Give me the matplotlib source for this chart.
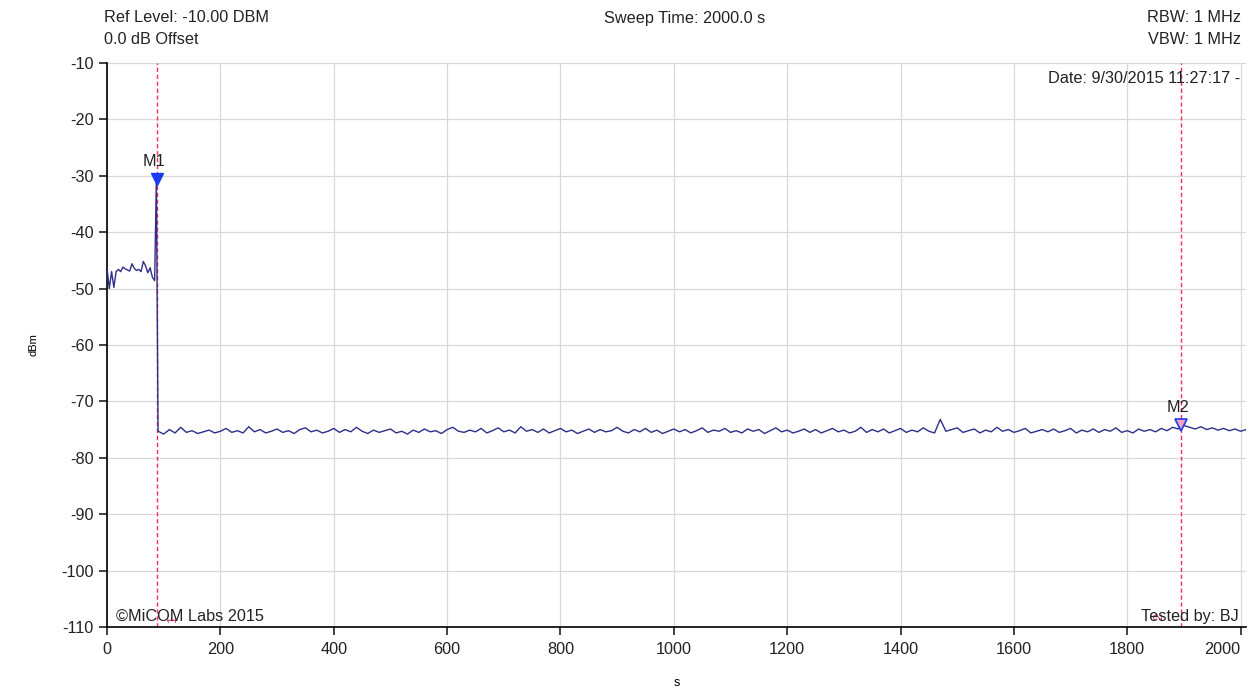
#Import matplotlib.pyplot to generate the plot
import matplotlib.pyplot as plt

#Import numpy for the time axis
import numpy as np

plt.rcParams['font.family'] = ['Liberation Sans', 'DejaVu Sans']
plt.rcParams['axes.unicode_minus'] = False

#Trace before the burst (s, dBm)
pre_t = [0, 4, 8, 12, 16, 20, 24, 28, 32, 36, 40, 44, 48, 52, 56, 60, 64, 68, 72, 76, 80, 84]
pre_v = [-46.5, -50.0, -47.0, -49.8, -47.0, -46.6, -47.0, -46.2, -46.5, -46.7, -46.9,
         -45.6, -46.4, -46.8, -46.6, -47.0, -45.2, -46.0, -47.2, -46.3, -48.0, -48.6]

#The burst itself
spike_t = [87]
spike_v = [-30.5]

#Noise floor after the burst, one reading every 10 s from 90 s
floor_v = [
    -75.3, -75.8, -75.0, -75.6, -74.6, -75.5, -75.2, -75.7, -75.4, -75.1, -75.6, -75.3, -74.8, -75.5, -75.2, -75.6, -74.5, -75.4, -75.0, -75.6,
    -75.3, -74.9, -75.5, -75.2, -75.7, -75.0, -74.7, -75.4, -75.1, -75.6, -75.3, -74.8, -75.5, -75.0, -75.4, -74.6, -75.3, -75.7, -75.1, -75.5,
    -75.2, -74.9, -75.6, -75.3, -75.8, -75.1, -75.5, -74.9, -75.4, -75.2, -75.7, -75.0, -74.6, -75.3, -75.5, -75.1, -75.4, -74.8, -75.6, -75.2,
    -74.7, -75.4, -75.1, -75.6, -74.5, -75.3, -75.0, -75.5, -74.9, -75.6, -75.2, -74.8, -75.4, -75.1, -75.7, -75.3, -74.9, -75.5, -75.0, -75.4,
    -75.2, -74.6, -75.3, -75.6, -75.0, -75.4, -74.8, -75.5, -75.1, -75.7, -75.3, -74.9, -75.4, -75.0, -75.6, -75.2, -74.7, -75.5, -75.1, -75.3,
    -74.8, -75.5, -75.2, -75.6, -74.9, -75.3, -75.0, -75.7, -75.2, -74.7, -75.4, -75.1, -75.6, -75.3, -74.9, -75.5, -75.0, -75.6, -75.2, -74.8,
    -75.4, -75.1, -75.6, -75.3, -74.6, -75.5, -75.0, -75.4, -74.9, -75.6, -75.2, -74.8, -75.5, -75.1, -75.4, -74.7, -75.3, -75.6, -73.2, -75.3,
    -75.0, -74.7, -75.5, -75.2, -74.9, -75.6, -75.1, -75.4, -74.6, -75.3, -75.0, -75.5, -75.2, -74.8, -75.6, -75.3, -75.0, -75.4, -74.9, -75.5,
    -75.2, -74.8, -75.6, -75.1, -75.4, -74.9, -75.5, -75.0, -75.3, -74.7, -75.5, -75.2, -75.6, -74.9, -75.3, -75.0, -75.4, -74.8, -75.2, -74.6,
    -74.9, -74.3, -74.6, -74.9, -74.5, -75.0, -74.7, -75.1, -74.8, -75.2, -74.9, -75.3, -75.0,
]
floor_t = np.arange(90, 90 + 10 * len(floor_v), 10)

#Markers
marker_names = ['M1', 'M2']
marker_t = [88, 1894]
marker_v = [-30.5, -74.2]

xticks = list(range(0, 2001, 200))
yticks = list(range(-110, -9, 10))

t = pre_t + spike_t + list(floor_t)
v = pre_v + spike_v + floor_v

fs = 11.7
txt_col = '#222222'

fig = plt.figure(figsize=(12.52, 6.92), dpi=100)
ax = fig.add_axes([0.0855, 0.094, 0.9095, 0.815])

ax.plot(t, v, color='#2e2e8a', lw=1.0, zorder=3)

for mt in marker_t:
    ax.axvline(mt, color='#ff2a55', lw=1.0, ls=(0, (3, 2)), zorder=2)

ax.plot(marker_t[0], marker_v[0], marker='v', ms=8, color='#1a3cf0', zorder=4, clip_on=False)
ax.plot(marker_t[1], marker_v[1], marker='v', ms=8, mfc='#f6a0c0', mec='#1a3cf0', mew=1.2, zorder=4)
for name, mt, mv in zip(marker_names, marker_t, marker_v):
    ax.text(mt - 5, mv + 1.7, name, ha='center', va='bottom', fontsize=fs, color=txt_col)

#small red marker numbers near the bottom
ax.text(117, -108.6, '1', color='#e0305a', fontsize=9, rotation=90, ha='center', va='center')
ax.text(1857, -108.2, '2', color='#e0305a', fontsize=9, rotation=90, ha='center', va='center')

ax.set_xlim(0, 2009)
ax.set_ylim(-110, -10)
ax.set_xticks(xticks)
ax.set_yticks(yticks)
ax.grid(True, color='#d8d8d8', lw=0.9)
ax.set_axisbelow(True)
for s in ['top', 'right']:
    ax.spines[s].set_visible(False)
ax.spines['left'].set_linewidth(1.2)
ax.spines['bottom'].set_linewidth(1.2)
ax.tick_params(axis='both', labelsize=fs, length=6, width=1.2, colors=txt_col)
ax.tick_params(axis='x', pad=5)
#last x label sits left of its tick so it stays inside the picture
last = ax.get_xticklabels()[-1]
last.set_horizontalalignment('right')
last.set_x(2000)

ax.set_xlabel('s', fontsize=9)
ax.xaxis.set_label_coords(0.5, -0.088)
ax.set_ylabel('dBm', fontsize=8)
ax.yaxis.set_label_coords(-0.060, 0.5)

ax.text(0.995, 0.985, 'Date: 9/30/2015 11:27:17 -', transform=ax.transAxes,
        ha='right', va='top', fontsize=fs, color=txt_col)
ax.text(0.008, 0.005, '\u00a9MiCOM Labs 2015', transform=ax.transAxes,
        ha='left', va='bottom', fontsize=fs, color=txt_col)
ax.text(0.994, 0.005, 'Tested by: BJ', transform=ax.transAxes,
        ha='right', va='bottom', fontsize=fs, color=txt_col)

fig.text(104 / 1252, 1 - 18 / 692, 'Ref Level: -10.00 DBM', ha='left', va='center', fontsize=fs, color=txt_col)
fig.text(104 / 1252, 1 - 39 / 692, '0.0 dB Offset', ha='left', va='center', fontsize=fs, color=txt_col)
fig.text(685 / 1252, 1 - 18 / 692, 'Sweep Time: 2000.0 s', ha='center', va='center', fontsize=fs, color=txt_col)
fig.text(1241 / 1252, 1 - 18 / 692, 'RBW: 1 MHz', ha='right', va='center', fontsize=fs, color=txt_col)
fig.text(1241 / 1252, 1 - 39 / 692, 'VBW: 1 MHz', ha='right', va='center', fontsize=fs, color=txt_col)

plt.savefig('out.png', dpi=100)
plt.close()
